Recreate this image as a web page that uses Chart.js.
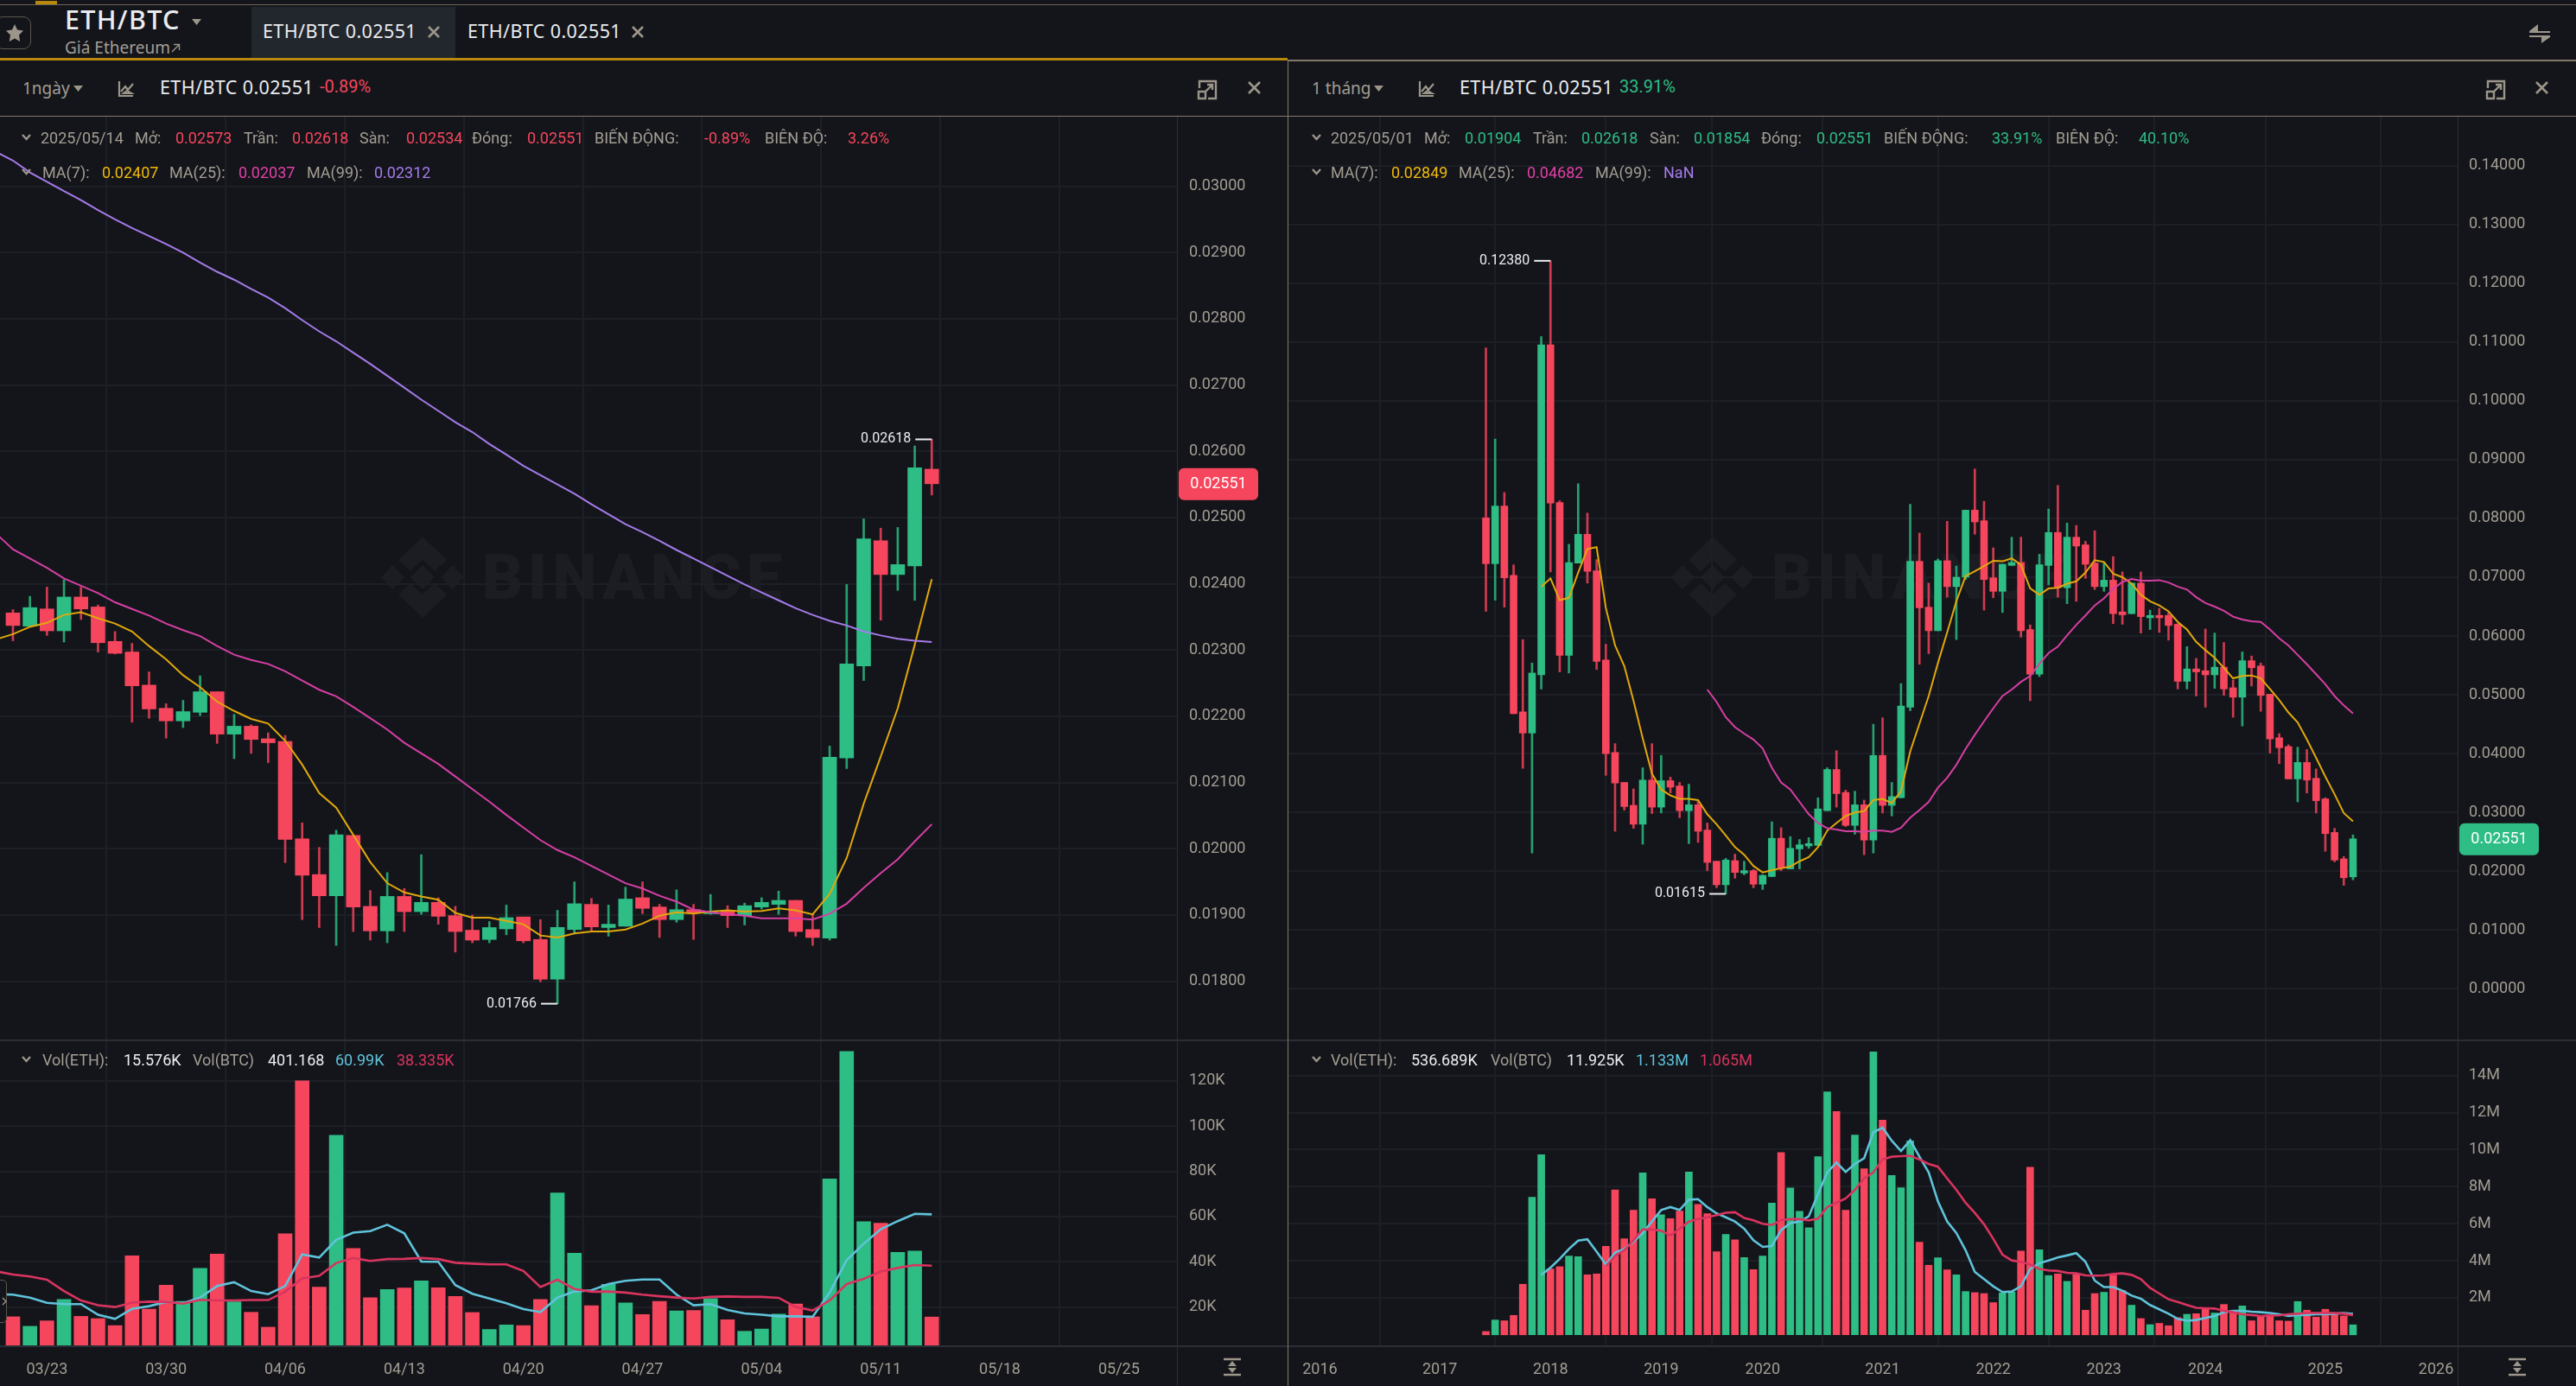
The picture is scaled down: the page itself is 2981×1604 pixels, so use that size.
<!DOCTYPE html>
<html>
<head>
<meta charset="utf-8">
<title>ETH/BTC</title>
<script src="https://cdn.jsdelivr.net/npm/chart.js@4/dist/chart.umd.min.js"></script>
<style>
  html, body { margin: 0; padding: 0; background: #14151a; }
  #page { position: relative; width: 2981px; height: 1604px; overflow: hidden; background: #14151a; font-family: Roboto, sans-serif; }
  canvas { position: absolute; display: block; }
  .t { position: absolute; transform: translateY(-50%); white-space: nowrap; font-size: 18px; color: #a39e94; }
  .w { color: #eaecef; }
  .r { color: #f6465d; }
  .gr { color: #2ebd85; }
  .y { color: #f0b90b; }
  .m { color: #e040a8; }
  .p { color: #a57bea; }
  .b { color: #5fc3db; }
  .rd { color: #d9345f; }
  .ttl { font-family: "Noto Sans", sans-serif; font-size: 21.5px; color: #eaecef; letter-spacing: .4px; }
  .sub { font-family: "Noto Sans", sans-serif; font-size: 19px; }
  .pct { font-size: 20px; }
  .box { position: absolute; }
  .mark { position: absolute; font: 900 73px Roboto, sans-serif; letter-spacing: 6px; color: #1b1d22; transform: translateY(-50%); }
  svg { position: absolute; overflow: visible; }
</style>
</head>
<body>
<div id="page"></div>
<script>
// ── Left pane: daily candles, index 0 = 03/21 ─────────────────────────────────
const leftOpen  = [.02356,.02336,.02362,.02329,.02380,.02365,.02313,.02297,.02247,.02212,.02193,.02206,.02237,.02173,.02185,.02166,.02162,.02015,.01961,.01929,.02020,.01913,.01876,.01928,.01905,.01919,.01899,.01877,.01863,.01879,.01897,.01863,.01803,.01878,.01916,.01881,.01883,.01926,.01912,.01893,.01908,.01902,.01907,.01899,.01912,.01916,.01922,.01878,.01865,.02137,.02276,.02465,.02414,.02427,.02573];
const leftHigh  = [.02361,.02381,.02395,.02406,.02395,.02368,.02328,.02310,.02267,.02219,.02224,.02261,.02237,.02203,.02187,.02175,.02171,.02039,.02002,.02028,.02020,.01937,.01964,.01940,.01991,.01926,.01913,.01900,.01890,.01915,.01897,.01893,.01907,.01950,.01925,.01915,.01942,.01950,.01916,.01938,.01916,.01931,.01914,.01918,.01926,.01936,.01922,.01902,.02155,.02399,.02498,.02484,.02485,.02608,.02618];
const leftLow   = [.02314,.02335,.02322,.02312,.02346,.02297,.02294,.02191,.02197,.02167,.02183,.02201,.02159,.02136,.02144,.02130,.01979,.01893,.01881,.01854,.01875,.01862,.01858,.01875,.01901,.01886,.01844,.01858,.01858,.01870,.01858,.01799,.01766,.01872,.01875,.01868,.01883,.01902,.01866,.01889,.01863,.01901,.01881,.01885,.01909,.01901,.01868,.01854,.01862,.02121,.02254,.02345,.02390,.02375,.02534];
const leftClose = [.02337,.02364,.02329,.02380,.02362,.02311,.02295,.02246,.02211,.02193,.02207,.02237,.02173,.02185,.02165,.02160,.02014,.01960,.01929,.02021,.01912,.01876,.01928,.01905,.01919,.01898,.01875,.01862,.01881,.01896,.01861,.01803,.01881,.01917,.01882,.01886,.01924,.01910,.01893,.01908,.01904,.01905,.01899,.01914,.01919,.01922,.01875,.01866,.02138,.02279,.02468,.02414,.02429,.02575,.02551];
// moving averages start one bar before the visible first candle
const leftMa7   = [.02316,.02324,.02335,.02341,.02353,.02357,.02348,.02340,.02328,.02306,.02286,.02262,.02244,.02222,.02208,.02196,.02189,.02163,.02127,.02084,.02062,.02021,.01980,.01948,.01934,.01928,.01923,.01903,.01896,.01896,.01891,.01886,.01869,.01866,.01872,.01875,.01875,.01878,.01887,.01899,.01904,.01902,.01905,.01907,.01905,.01906,.01910,.01907,.01901,.01932,.01986,.02068,.02139,.02212,.02308,.02407];
const leftMa25  = [.02476,.02452,.02438,.02424,.02408,.02397,.02386,.02372,.02362,.02352,.02340,.02330,.02321,.02306,.02293,.02285,.02279,.02268,.02254,.02240,.02230,.02214,.02197,.02180,.02160,.02144,.02128,.02109,.02090,.02071,.02051,.02032,.02013,.01998,.01987,.01974,.01961,.01948,.01940,.01929,.01920,.01908,.01904,.01901,.01899,.01895,.01895,.01895,.01893,.01902,.01917,.01941,.01963,.01984,.02011,.02037];
const leftMa99  = [.03052,.03039,.03021,.03007,.02993,.02979,.02964,.02950,.02937,.02925,.02913,.02900,.02885,.02871,.02859,.02845,.02832,.02816,.02798,.02781,.02766,.02749,.02732,.02714,.02696,.02678,.02661,.02644,.02629,.02611,.02595,.02578,.02564,.02550,.02536,.02520,.02505,.02490,.02478,.02465,.02451,.02438,.02425,.02412,.02399,.02387,.02375,.02363,.02353,.02344,.02337,.02328,.02322,.02317,.02314,.02312];
const leftVol   = [15.7,11.5,13.9,23.4,15.9,14.9,11.8,42.7,19.1,29.7,22.5,37.1,43.4,22.3,17.7,11.1,52.4,120,28.8,96,45.9,24.1,27.8,28.4,31.6,28.5,24.7,17.6,10.1,12.1,11.8,23.4,70.5,43.8,20.6,30.1,21.8,16.7,22.5,18.3,18.5,23.8,14.4,9.3,10.3,16.9,21.4,15.7,76.7,133,57.8,57.1,44.2,44.8,15.6];
const leftVolMa7  = [25.7,25.5,24.2,21.9,21.3,21.3,16.6,14.8,19.2,20.4,22.3,21.7,24.2,29.3,31,27.1,25.7,29.3,43.3,41.9,49.7,52.9,53.6,56.4,52.6,40.1,40,29.7,25.9,23.8,21.7,19.1,17.8,24.2,26.9,27.4,30.2,31.6,32.2,32.2,25.5,20.8,21.3,18.7,17.2,16.6,15.9,15.9,15.7,26.4,40.8,48,54.4,58,61.2,61];
const leftVolMa25 = [35.8,34.4,33.5,32.1,27.1,22.9,20.8,20,22,22.4,22.3,21.5,23.2,22.9,22.9,23.1,23.1,26.8,32.7,33.8,39.5,41.7,40.4,41.2,41.3,41.7,41.2,39.6,39.2,38.9,38.9,36,28.9,32.1,28,26.8,26.9,26.4,25.5,24.8,24.2,23.8,24.5,24.7,24.5,24.5,24.1,20.1,18.5,22.9,30.2,32.5,35.7,37.3,38.6,38.3];
const leftPriceTicks = [.018,.019,.020,.021,.022,.023,.024,.025,.026,.027,.028,.029,.030];
const leftVolTicks   = [20,40,60,80,100,120];
const leftTimePos    = [2,9,16,23,30,37,44,51,58,65];
const leftTimeLabels = ['03/23','03/30','04/06','04/13','04/20','04/27','05/04','05/11','05/18','05/25'];

// ── Right pane: monthly candles ───────────────────────────────────────────────
const rightOpen  = [.0801,.0723,.0821,.0703,.0471,.0435,.0534,.1095,.0827,.0567,.0724,.0773,.0711,.0559,.0402,.0351,.0312,.0280,.0355,.0309,.0354,.0345,.0303,.0313,.0270,.0217,.0177,.0218,.0197,.0201,.0178,.0191,.0256,.0204,.0238,.0243,.0244,.0303,.0373,.0334,.0278,.0313,.0253,.0397,.0312,.0325,.0479,.0727,.0649,.0609,.0728,.0684,.0700,.0814,.0796,.0699,.0676,.0720,.0725,.0611,.0535,.0720,.0776,.0682,.0768,.0755,.0724,.0684,.0695,.0641,.0638,.0690,.0631,.0635,.0635,.0620,.0523,.0544,.0541,.0534,.0547,.0512,.0496,.0558,.0549,.0501,.0427,.0412,.0357,.0385,.0358,.0323,.0266,.0221,.01904];
const rightHigh  = [.1090,.0935,.0844,.0721,.0594,.0554,.1109,.1238,.0830,.0756,.0859,.0809,.0730,.0586,.0417,.0351,.0340,.0376,.0417,.0397,.0360,.0351,.0348,.0319,.0282,.0217,.0222,.0229,.0217,.0203,.0194,.0284,.0274,.0259,.0254,.0257,.0325,.0376,.0405,.0338,.0336,.0321,.0450,.0461,.0351,.0519,.0824,.0775,.0690,.0731,.0795,.0719,.0814,.0884,.0829,.0750,.0722,.0768,.0768,.0619,.0739,.0816,.0856,.0792,.0788,.0761,.0779,.0725,.0735,.0709,.0690,.0709,.0644,.0647,.0640,.0621,.0582,.0562,.0612,.0605,.0589,.0525,.0573,.0566,.0554,.0501,.0434,.0415,.0411,.0407,.0374,.0325,.0273,.0225,.02618];
const rightLow   = [.0642,.0661,.0649,.0468,.0375,.0231,.0510,.0709,.0539,.0537,.0724,.0690,.0543,.0363,.0268,.0304,.0273,.0246,.0298,.0299,.0333,.0291,.0247,.0249,.0201,.0172,.01615,.0188,.0194,.0172,.0169,.0191,.0201,.0204,.0204,.0239,.0243,.0303,.0309,.0276,.0263,.0228,.0231,.0299,.0294,.0325,.0473,.0552,.0570,.0609,.0666,.0594,.0696,.0773,.0644,.0665,.0640,.0720,.0598,.0490,.0531,.0687,.0666,.0655,.0659,.0698,.0679,.0676,.0621,.0620,.0638,.0605,.0611,.0606,.0593,.0510,.0510,.0498,.0479,.0511,.0499,.0462,.0447,.0515,.0472,.0401,.0383,.0357,.0318,.0333,.0299,.0234,.0216,.0176,.01854];
const rightClose = [.0723,.0821,.0699,.0468,.0435,.0537,.1095,.0826,.0567,.0725,.0773,.0710,.0557,.0400,.0350,.0310,.0280,.0355,.0309,.0354,.0343,.0303,.0313,.0268,.0215,.0177,.0219,.0198,.0201,.0178,.0193,.0256,.0205,.0239,.0245,.0247,.0306,.0373,.0332,.0278,.0313,.0253,.0397,.0312,.0327,.0481,.0727,.0648,.0609,.0728,.0684,.0700,.0814,.0794,.0696,.0676,.0722,.0725,.0609,.0535,.0721,.0776,.0682,.0768,.0753,.0722,.0684,.0695,.0638,.0636,.0690,.0633,.0635,.0631,.0618,.0523,.0544,.0539,.0534,.0547,.0510,.0496,.0558,.0546,.0499,.0425,.0410,.0357,.0385,.0355,.0320,.0264,.0219,.0189,.02551];
// moving averages are aligned to the last candle, so they start later than the candles
const rightMa7   = [.0684,.0698,.0661,.0665,.0708,.0748,.0751,.0648,.0584,.0549,.0490,.0426,.0366,.0339,.0329,.0323,.0323,.0321,.0297,.0280,.0261,.0241,.0228,.0209,.0198,.0202,.0205,.0208,.0217,.0224,.0241,.0269,.0282,.0294,.0300,.0302,.0321,.0323,.0316,.0336,.0404,.0451,.0498,.0554,.0606,.0659,.0702,.0710,.0719,.0728,.0727,.0732,.0721,.0681,.0670,.0681,.0682,.0689,.0693,.0708,.0729,.0726,.0706,.0700,.0689,.0670,.0659,.0652,.0642,.0624,.0611,.0590,.0576,.0563,.0546,.0528,.0532,.0533,.0528,.0510,.0491,.0470,.0453,.0424,.0393,.0361,.0331,.0299,.02849];
const rightMa25  = [.0509,.0488,.0462,.0445,.0434,.0424,.0409,.0376,.0351,.0339,.0318,.0297,.0282,.0273,.0271,.0268,.0268,.0267,.0269,.0269,.0267,.0274,.0291,.0304,.0318,.0342,.0359,.0381,.0408,.0432,.0455,.0477,.0498,.0509,.0522,.0532,.0553,.0571,.0582,.0601,.0619,.0635,.0652,.0664,.0680,.0692,.0697,.0694,.0694,.0695,.0691,.0684,.0679,.0666,.0656,.0650,.0643,.0633,.0628,.0625,.0624,.0611,.0596,.0584,.0568,.0552,.0535,.0518,.0498,.0482,.04682];
const rightVol   = [.18,.80,.76,1.05,2.73,7.43,9.73,3.56,3.68,4.26,4.22,3.24,3.29,4.78,7.83,5.19,6.73,8.75,7.35,6.48,6.28,6.68,8.80,7.05,6.54,4.49,5.42,5.13,4.18,3.52,4.26,7.12,9.85,7.93,6.67,5.79,9.62,13.12,12.06,6.73,10.79,8.97,15.28,11.60,8.61,7.94,10.48,5.0,3.76,4.16,3.51,3.24,2.34,2.28,2.23,1.74,2.26,2.31,4.52,9.05,4.60,3.20,3.29,2.89,3.26,1.33,2.23,2.30,3.23,2.39,1.60,.88,.55,.62,.49,.93,1.11,1.14,1.46,1.18,1.64,1.30,1.56,.76,1.02,1.08,.76,.74,1.80,1.33,.96,1.38,1.14,1.02,.54];
const rightVolMa7  = [3.24,3.63,4.10,4.64,5.09,5.16,4.49,3.79,4.44,4.64,5.03,5.50,6.12,6.74,6.90,6.74,7.30,7.33,6.90,6.56,6.35,6.12,5.73,5.11,4.75,4.80,5.65,6.04,6.12,6.40,7.60,8.77,9.31,8.80,9.23,9.54,10.94,11.19,10.48,9.93,10.51,9.62,8.77,7.21,6.12,5.50,4.57,3.40,3.01,2.62,2.31,2.34,2.62,3.56,3.87,4.02,4.18,4.29,4.41,3.94,2.93,2.58,2.58,2.39,2.12,1.95,1.61,1.38,1.14,.86,.76,.80,.91,1.02,1.22,1.30,1.30,1.25,1.22,1.18,1.11,1.02,1.07,1.08,1.11,1.11,1.14,1.18,1.133];
const rightVolMa25 = [3.71,4.26,4.57,5.11,5.69,5.69,5.62,5.37,5.73,6.12,6.25,6.35,6.46,6.59,6.62,6.31,6.18,6.0,5.93,6.20,6.25,6.25,6.18,6.28,6.90,7.13,7.37,7.83,8.45,8.77,9.47,9.62,9.65,9.67,9.47,9.23,9.08,8.45,7.83,7.13,6.59,5.97,5.19,4.33,4.02,3.94,3.79,3.56,3.48,3.45,3.35,3.32,3.21,3.20,3.21,3.29,3.32,3.24,3.01,2.54,2.23,1.92,1.77,1.61,1.46,1.44,1.42,1.30,1.22,1.11,1.07,1.02,1.04,1.05,1.11,1.14,1.18,1.18,1.19,1.18,1.14,1.065];
const rightPriceTicks = [0,.01,.02,.03,.04,.05,.06,.07,.08,.09,.10,.11,.12,.13,.14];
const rightVolTicks   = [2,4,6,8,10,12,14];
const rightTimePos    = [-18,-5,7,19,30,43,55,67,78,91,103];
const rightTimeLabels = ['2016','2017','2018','2019','2020','2021','2022','2023','2024','2025','2026'];

// ── Colours ───────────────────────────────────────────────────────────────────
const UP = '#2ebd85', DOWN = '#f6465d';
const UP_WICK = '#27a070', DOWN_WICK = '#cf3b50';
const MA7_C = '#e0a80c', MA25_C = '#d63fa4', MA99_C = '#a57bea';
const VOLMA7_C = '#5fc3db', VOLMA25_C = '#d9345f';
const GRID = '#1c1f25', TICK = '#a39e94', LINE = '#82796b', SEP = '#2a2e35';

const page = document.getElementById('page');

// ── Chrome helpers ────────────────────────────────────────────────────────────
function txt(x, y, text, cls) {
  const d = document.createElement('div');
  d.className = 't ' + (cls || '');
  d.style.left = x + 'px';
  d.style.top = y + 'px';
  d.textContent = text;
  page.appendChild(d);
}

function rect(x, y, w, h, color, extra) {
  const d = document.createElement('div');
  d.className = 'box';
  d.style.cssText = `left:${x}px;top:${y}px;width:${w}px;height:${h}px;background:${color};${extra || ''}`;
  page.appendChild(d);
}

function svg(x, y, w, h, inner) {
  page.insertAdjacentHTML('beforeend', `<svg style="left:${x}px;top:${y}px" width="${w}" height="${h}" viewBox="0 0 ${w} ${h}">${inner}</svg>`);
}

const ICON = '#9c968a';
const caret = (x, y) => svg(x, y, 11, 7, `<path d="M0 0H11L5.5 7Z" fill="${ICON}"/>`);
const chevron = (x, y) => svg(x, y, 11, 8, `<path d="M1 1L5.5 6L10 1" fill="none" stroke="${ICON}" stroke-width="2.4"/>`);
const closeX = (x, y, s) => svg(x, y, s, s, `<path d="M1 1L${s - 1} ${s - 1}M${s - 1} 1L1 ${s - 1}" stroke="${ICON}" stroke-width="2.6"/>`);
const chartIcon = (x, y) => svg(x, y, 18, 18, `<path d="M1 0V17H17M3 12L8 6L11 10L17 3M6 14H15L10 11Z" fill="none" stroke="${ICON}" stroke-width="2.2"/>`);
const expandIcon = (x, y) => svg(x, y, 24, 24, `<path d="M3 10V2H22V22H13M2 14H10V22H2ZM10 14L18 6M12 6H18V12" fill="none" stroke="${ICON}" stroke-width="2.4"/>`);
const fitIcon = (x, y) => svg(x, y, 20, 20, `<path d="M0 1H20M0 19H20" stroke="${ICON}" stroke-width="2.6"/><path d="M10 3L15 9H5ZM10 17L15 11H5Z" fill="${ICON}"/>`);

function watermark(logoX, textX) {
  const c = '#1b1d22';
  svg(logoX - 48, 621, 96, 94,
    `<path d="M48 0L76 27L62 40L48 27L34 40L20 27Z M48 94L76 67L62 54L48 67L34 54L20 67Z M48 33L62 47L48 61L34 47Z M13 33L27 47L13 61L0 47Z M83 33L96 47L83 61L69 47Z" fill="${c}"/>`);
  const d = document.createElement('div');
  d.className = 'mark';
  d.style.left = textX + 'px';
  d.style.top = '668px';
  d.textContent = 'BINANCE';
  page.appendChild(d);
}

// ── Page frame: bars, tabs, readouts (drawn above the canvases) ───────────────
function drawFrame() {
  // top rules
  rect(0, 5, 2981, 1, '#6d6759');
  rect(41, 1, 25, 4, '#b8890b');
  rect(0, 67, 1490, 3, '#b8890b');
  rect(1490, 69, 1491, 2, LINE);
  rect(0, 134, 2981, 1, LINE);
  rect(1490, 69, 1, 1535, LINE);

  // axis rails
  rect(1362, 135, 1, 1469, SEP);
  rect(2844, 135, 1, 1469, SEP);
  rect(0, 1203, 1490, 2, SEP);
  rect(1491, 1203, 1490, 2, SEP);
  rect(0, 1557, 1490, 2, SEP);
  rect(1491, 1557, 1490, 2, SEP);

  // symbol block
  rect(-6, 19, 42, 38, 'transparent', `border:1px solid #5c574e;border-radius:9px;box-sizing:border-box;`);
  svg(7, 28, 20, 20, `<path d="M10 0L13 6.5L20 7.5L15 12.5L16.2 20L10 16.5L3.8 20L5 12.5L0 7.5L7 6.5Z" fill="${ICON}"/>`);
  txt(75, 22, 'ETH/BTC', 'ttl');
  page.lastChild.style.cssText += 'font-size:30.5px;letter-spacing:1.3px;font-weight:500;';
  caret(222, 22);
  txt(75, 55, 'Giá Ethereum', 'sub');
  svg(198, 50, 11, 11, `<path d="M1 10L9 2M3 1.5H9.5V8" fill="none" stroke="${ICON}" stroke-width="1.4"/>`);

  // tabs
  txt(304, 35, 'ETH/BTC 0.02551', 'ttl');
  closeX(495, 30, 14);
  txt(541, 35, 'ETH/BTC 0.02551', 'ttl');
  closeX(731, 30, 14);
  svg(2926, 28, 26, 22, `<path d="M1 8H25V10H1ZM11 0V8H1ZM1 13H25V15H1ZM15 22V15H25Z" fill="${ICON}"/>`);

  // left pane header
  txt(26, 102, '1ngày', 'sub');
  caret(85, 99);
  chartIcon(137, 94);
  txt(185, 100, 'ETH/BTC 0.02551', 'ttl');
  txt(370, 100, '-0.89%', 'r pct');
  expandIcon(1385, 92);
  closeX(1444, 94, 15);

  // right pane header
  txt(1518, 102, '1 tháng', 'sub');
  caret(1590, 99);
  chartIcon(1642, 94);
  txt(1689, 100, 'ETH/BTC 0.02551', 'ttl');
  txt(1874, 100, '33.91%', 'gr pct');
  expandIcon(2876, 92);
  closeX(2934, 94, 15);

  const rowsLeft = [
    [47, 159, '2025/05/14'], [156, 159, 'Mở:'], [203, 159, '0.02573', 'r'], [282, 159, 'Trần:'], [338, 159, '0.02618', 'r'],
    [416, 159, 'Sàn:'], [470, 159, '0.02534', 'r'], [546, 159, 'Đóng:'], [610, 159, '0.02551', 'r'],
    [688, 159, 'BIẾN ĐỘNG:'], [815, 159, '-0.89%', 'r'], [885, 159, 'BIÊN ĐỘ:'], [981, 159, '3.26%', 'r'],
    [49, 199, 'MA(7):'], [118, 199, '0.02407', 'y'], [196, 199, 'MA(25):'], [276, 199, '0.02037', 'm'], [355, 199, 'MA(99):'], [433, 199, '0.02312', 'p'],
    [49, 1226, 'Vol(ETH):'], [143, 1226, '15.576K', 'w'], [223, 1226, 'Vol(BTC)'], [310, 1226, '401.168', 'w'], [388, 1226, '60.99K', 'b'], [459, 1226, '38.335K', 'rd'],
  ];
  const rowsRight = [
    [1540, 159, '2025/05/01'], [1648, 159, 'Mở:'], [1695, 159, '0.01904', 'gr'], [1774, 159, 'Trần:'], [1830, 159, '0.02618', 'gr'],
    [1909, 159, 'Sàn:'], [1960, 159, '0.01854', 'gr'], [2038, 159, 'Đóng:'], [2102, 159, '0.02551', 'gr'],
    [2180, 159, 'BIẾN ĐỘNG:'], [2305, 159, '33.91%', 'gr'], [2379, 159, 'BIÊN ĐỘ:'], [2475, 159, '40.10%', 'gr'],
    [1540, 199, 'MA(7):'], [1610, 199, '0.02849', 'y'], [1688, 199, 'MA(25):'], [1767, 199, '0.04682', 'm'], [1846, 199, 'MA(99):'], [1925, 199, 'NaN', 'p'],
    [1540, 1226, 'Vol(ETH):'], [1633, 1226, '536.689K', 'w'], [1725, 1226, 'Vol(BTC)'], [1813, 1226, '11.925K', 'w'], [1893, 1226, '1.133M', 'b'], [1967, 1226, '1.065M', 'rd'],
  ];
  rowsLeft.concat(rowsRight).forEach(r => txt(r[0], r[1], r[2], r[3]));
  [[25, 155], [25, 195], [25, 1222], [1518, 155], [1518, 195], [1518, 1222]].forEach(p => chevron(p[0], p[1]));

  // collapse handle + fit icons
  rect(-6, 1481, 14, 50, '#14151a', 'border:1px solid #5c574e;border-radius:5px;box-sizing:border-box;');
  svg(2, 1501, 6, 10, `<path d="M1 1L5 5L1 9" fill="none" stroke="${ICON}" stroke-width="1.4"/>`);
  fitIcon(1416, 1572);
  fitIcon(2903, 1572);
}

// ── Chart helpers ─────────────────────────────────────────────────────────────
function toPoints(values, lastIndex) {
  const first = lastIndex - values.length + 1;
  return values.map((y, i) => ({ x: first + i, y }));
}

function lineSet(values, lastIndex, color, width) {
  return {
    type: 'line', data: toPoints(values, lastIndex), borderColor: color, borderWidth: width,
    pointRadius: 0, tension: 0, fill: false, order: 0,
  };
}

function xAxis(p, showLabels) {
  return {
    type: 'linear', min: p.xMin, max: p.xMax, offset: false,
    border: { display: false },
    grid: { color: GRID, lineWidth: 2, drawTicks: false },
    afterBuildTicks: s => { s.ticks = p.timePos.map(v => ({ value: v })); },
    afterFit: s => { s.height = showLabels ? 47 : 0; s.paddingLeft = 0; s.paddingRight = 0; },
    ticks: {
      display: showLabels, autoSkip: false, maxRotation: 0, color: TICK, padding: 18,
      font: { family: 'Roboto', size: 18 },
      callback: v => p.timeLabels[p.timePos.indexOf(v)],
    },
  };
}

function yAxis(p, min, max, ticks, fmt) {
  return {
    position: 'right', min, max,
    border: { display: false },
    grid: { color: GRID, lineWidth: 2, drawTicks: false },
    afterBuildTicks: s => { s.ticks = ticks.map(v => ({ value: v })); },
    // keep the plot edge-to-edge: no room reserved for half a tick label
    afterFit: s => { s.width = p.axisW; s.paddingTop = 0; s.paddingBottom = 0; },
    ticks: { autoSkip: false, color: TICK, padding: p.tickPad, font: { family: 'Roboto', size: 18 }, callback: fmt },
  };
}

// hi/lo callouts and the last-price tag, positioned through the chart's scales
const priceMarks = {
  id: 'priceMarks',
  afterDraw(chart, args, opts) {
    const { ctx, scales: { x, y } } = chart;
    ctx.save();
    ctx.font = '16px Roboto';
    ctx.textBaseline = 'middle';
    opts.callouts.forEach(c => {
      const px = x.getPixelForValue(c.i), py = y.getPixelForValue(c.v);
      ctx.strokeStyle = '#eaecef';
      ctx.lineWidth = 2;
      ctx.beginPath();
      ctx.moveTo(px, py);
      ctx.lineTo(px - 19, py);
      ctx.stroke();
      ctx.fillStyle = '#eaecef';
      ctx.textAlign = 'right';
      ctx.fillText(c.label, px - 24, py);
    });
    const ty = y.getPixelForValue(opts.last), tx = chart.chartArea.right + 2;
    ctx.fillStyle = opts.tagColor;
    ctx.beginPath();
    ctx.roundRect(tx, ty - 18, 92, 37, 6);
    ctx.fill();
    ctx.fillStyle = '#fff';
    ctx.font = '18px Roboto';
    ctx.textAlign = 'center';
    ctx.fillText(opts.lastLabel, tx + 46, ty + 1);
    ctx.restore();
  },
};

function makeCanvas(x, y, w, h) {
  const c = document.createElement('canvas');
  c.width = w; c.height = h;
  c.style.left = x + 'px';
  c.style.top = y + 'px';
  page.appendChild(c);
  return c;
}

function drawPane(p) {
  const up = p.open.map((o, i) => p.close[i] >= o);
  const last = p.open.length - 1;
  const common = {
    responsive: false, animation: false, devicePixelRatio: 1,
    layout: { padding: 0 },
  };

  new Chart(makeCanvas(p.left, 134, 1490, 1069), {
    type: 'bar',
    data: {
      datasets: [
        {
          data: p.open.map((o, i) => ({ x: i, y: [p.low[i], p.high[i]] })),
          backgroundColor: up.map(u => u ? UP_WICK : DOWN_WICK),
          barThickness: 2, grouped: false, order: 2,
        },
        {
          data: p.open.map((o, i) => ({ x: i, y: [o, p.close[i]] })),
          backgroundColor: up.map(u => u ? UP : DOWN),
          barThickness: p.bodyW, grouped: false, order: 1,
        },
        ...p.priceLines,
      ],
    },
    options: {
      ...common,
      plugins: {
        legend: { display: false }, tooltip: { enabled: false },
        priceMarks: { callouts: p.callouts, last: p.close[last], lastLabel: '0.02551', tagColor: p.tagColor },
      },
      scales: {
        x: xAxis(p, false),
        y: yAxis(p, p.priceMin, p.priceMax, p.priceTicks, v => v.toFixed(5)),
      },
    },
    plugins: [priceMarks],
  });

  new Chart(makeCanvas(p.left, 1203, 1490, 401), {
    type: 'bar',
    data: {
      datasets: [
        {
          data: p.vol.map((v, i) => ({ x: i, y: v })),
          backgroundColor: up.map(u => u ? UP : DOWN),
          barThickness: p.volW, grouped: false, order: 1,
        },
        ...p.volLines,
      ],
    },
    options: {
      ...common,
      plugins: { legend: { display: false }, tooltip: { enabled: false } },
      scales: {
        x: xAxis(p, true),
        y: yAxis(p, p.volMin, p.volMax, p.volTicks, p.volFmt),
      },
    },
  });
}

// layer order: tab fill and watermark, then charts, then text and rules
rect(291, 8, 236, 59, '#22262d');
watermark(489, 558);
watermark(1982, 2050);

drawPane({
  left: 0, axisW: 128, tickPad: 14, bodyW: 16, volW: 16,
  xMin: -0.76, xMax: 68.41,
  timePos: leftTimePos, timeLabels: leftTimeLabels,
  open: leftOpen, high: leftHigh, low: leftLow, close: leftClose, vol: leftVol,
  priceMin: .01712, priceMax: .031065, priceTicks: leftPriceTicks,
  volMin: 3.06, volMax: 138.3, volTicks: leftVolTicks, volFmt: v => v + 'K',
  priceLines: [
    lineSet(leftMa99, 54, MA99_C, 2),
    lineSet(leftMa25, 54, MA25_C, 2),
    lineSet(leftMa7, 54, MA7_C, 2),
  ],
  volLines: [
    lineSet(leftVolMa25, 54, VOLMA25_C, 2.6),
    lineSet(leftVolMa7, 54, VOLMA7_C, 2.6),
  ],
  callouts: [{ i: 54, v: .02618, label: '0.02618' }, { i: 32, v: .01766, label: '0.01766' }],
  tagColor: DOWN,
});

drawPane({
  left: 1491, axisW: 137, tickPad: 13, bodyW: 8, volW: 8,
  xMin: -21.41, xMax: 105.34,
  timePos: rightTimePos, timeLabels: rightTimeLabels,
  open: rightOpen, high: rightHigh, low: rightLow, close: rightClose, vol: rightVol,
  priceMin: -.00861, priceMax: .14846, priceTicks: rightPriceTicks,
  volMin: -.57, volMax: 15.95, volTicks: rightVolTicks, volFmt: v => v + 'M',
  priceLines: [
    lineSet(rightMa25, 94, MA25_C, 2),
    lineSet(rightMa7, 94, MA7_C, 2),
  ],
  volLines: [
    lineSet(rightVolMa25, 94, VOLMA25_C, 2.6),
    lineSet(rightVolMa7, 94, VOLMA7_C, 2.6),
  ],
  callouts: [{ i: 7, v: .1238, label: '0.12380' }, { i: 26, v: .01615, label: '0.01615' }],
  tagColor: UP,
});

drawFrame();
</script>
</body>
</html>
